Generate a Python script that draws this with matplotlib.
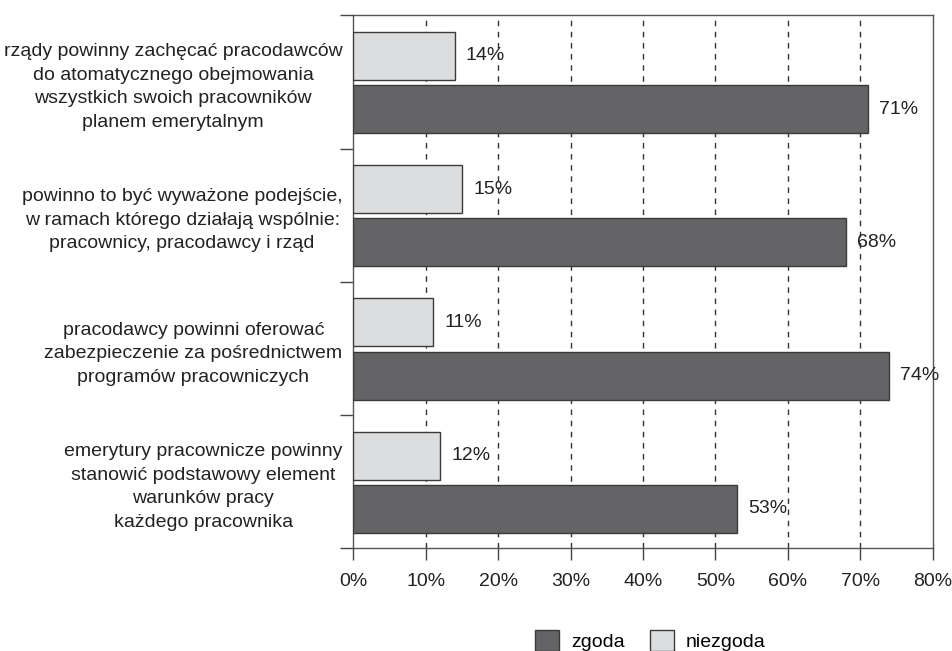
import matplotlib.pyplot as plt
import numpy as np

# ====================
# 数据
# ====================
categories = [
    "rządy powinny zachęcać pracodawców\ndo atomatycznego obejmowania\nwszystkich swoich pracowników\nplanem emerytalnym",
    "powinno to być wyważone podejście,\nw ramach którego działają wspólnie:\npracownicy, pracodawcy i rząd",
    "pracodawcy powinni oferować\nzabezpieczenie za pośrednictwem\nprogramów pracowniczych",
    "emerytury pracownicze powinny\nstanowić podstawowy element\nwarunków pracy\nkażdego pracownika",
]
zgoda = [71, 68, 74, 53]
niezgoda = [14, 15, 11, 12]
x_ticks = [0, 10, 20, 30, 40, 50, 60, 70, 80]
x_tick_labels = ["0%", "10%", "20%", "30%", "40%", "50%", "60%", "70%", "80%"]

DARK = "#646466"
LIGHT = "#dcdddf"
EDGE = "#3a3a3a"
TXT = "#222222"
FS = 14

plt.rcParams['font.family'] = ['Liberation Sans', 'DejaVu Sans']
plt.rcParams['font.size'] = FS

fig = plt.figure(figsize=(9.52, 6.51), dpi=100)
ax = fig.add_axes([0.3713, 0.1578, 0.6084, 0.8187])

pos = np.arange(len(categories)) + 0.5
h = 0.36
ax.barh(pos - 0.195, niezgoda, height=h, color=LIGHT, edgecolor=EDGE,
        linewidth=1, label="niezgoda", zorder=3)
ax.barh(pos + 0.204, zgoda, height=h, color=DARK, edgecolor=EDGE,
        linewidth=1, label="zgoda", zorder=3)

# etykiety wartości
for y, v in zip(pos - 0.195, niezgoda):
    ax.annotate(f"{v}%", (v, y), xytext=(8, 0), textcoords="offset points",
                va="center", ha="left", color=TXT, fontsize=FS)
for y, v in zip(pos + 0.204, zgoda):
    ax.annotate(f"{v}%", (v, y), xytext=(8, 0), textcoords="offset points",
                va="center", ha="left", color=TXT, fontsize=FS)

ax.set_xlim(0, 80)
ax.set_ylim(len(categories), 0)
ax.set_xticks(x_ticks)
ax.set_xticklabels(x_tick_labels, color=TXT)

# granice grup jako główne znaczniki, etykiety jako pomocnicze
ax.set_yticks(np.arange(len(categories) + 1))
ax.set_yticklabels([])
ax.set_yticks(pos, minor=True)
ax.set_yticklabels(categories, minor=True, multialignment="center",
                   color=TXT, linespacing=1.5)
ax.tick_params(axis="y", which="major", length=9.5, width=1, color="#444444")
ax.tick_params(axis="y", which="minor", length=0, pad=8)
ax.tick_params(axis="x", length=8.6, width=1, color="#444444", pad=9)

for s in ax.spines.values():
    s.set_color("#555555")
    s.set_linewidth(1)

ax.set_axisbelow(True)
for xv in x_ticks[1:-1]:
    ax.axvline(xv, color="#333333", linewidth=1, linestyle=(0, (4, 4)), zorder=1)

handles, labels = ax.get_legend_handles_labels()
fig.legend(handles[::-1], labels[::-1], loc="center", bbox_to_anchor=(0.683, 0.016),
           ncol=2, frameon=False, fontsize=FS, handlelength=1.25, handleheight=1.25,
           columnspacing=1.3, handletextpad=0.6)

fig.savefig("out.png", dpi=100, facecolor="white")
